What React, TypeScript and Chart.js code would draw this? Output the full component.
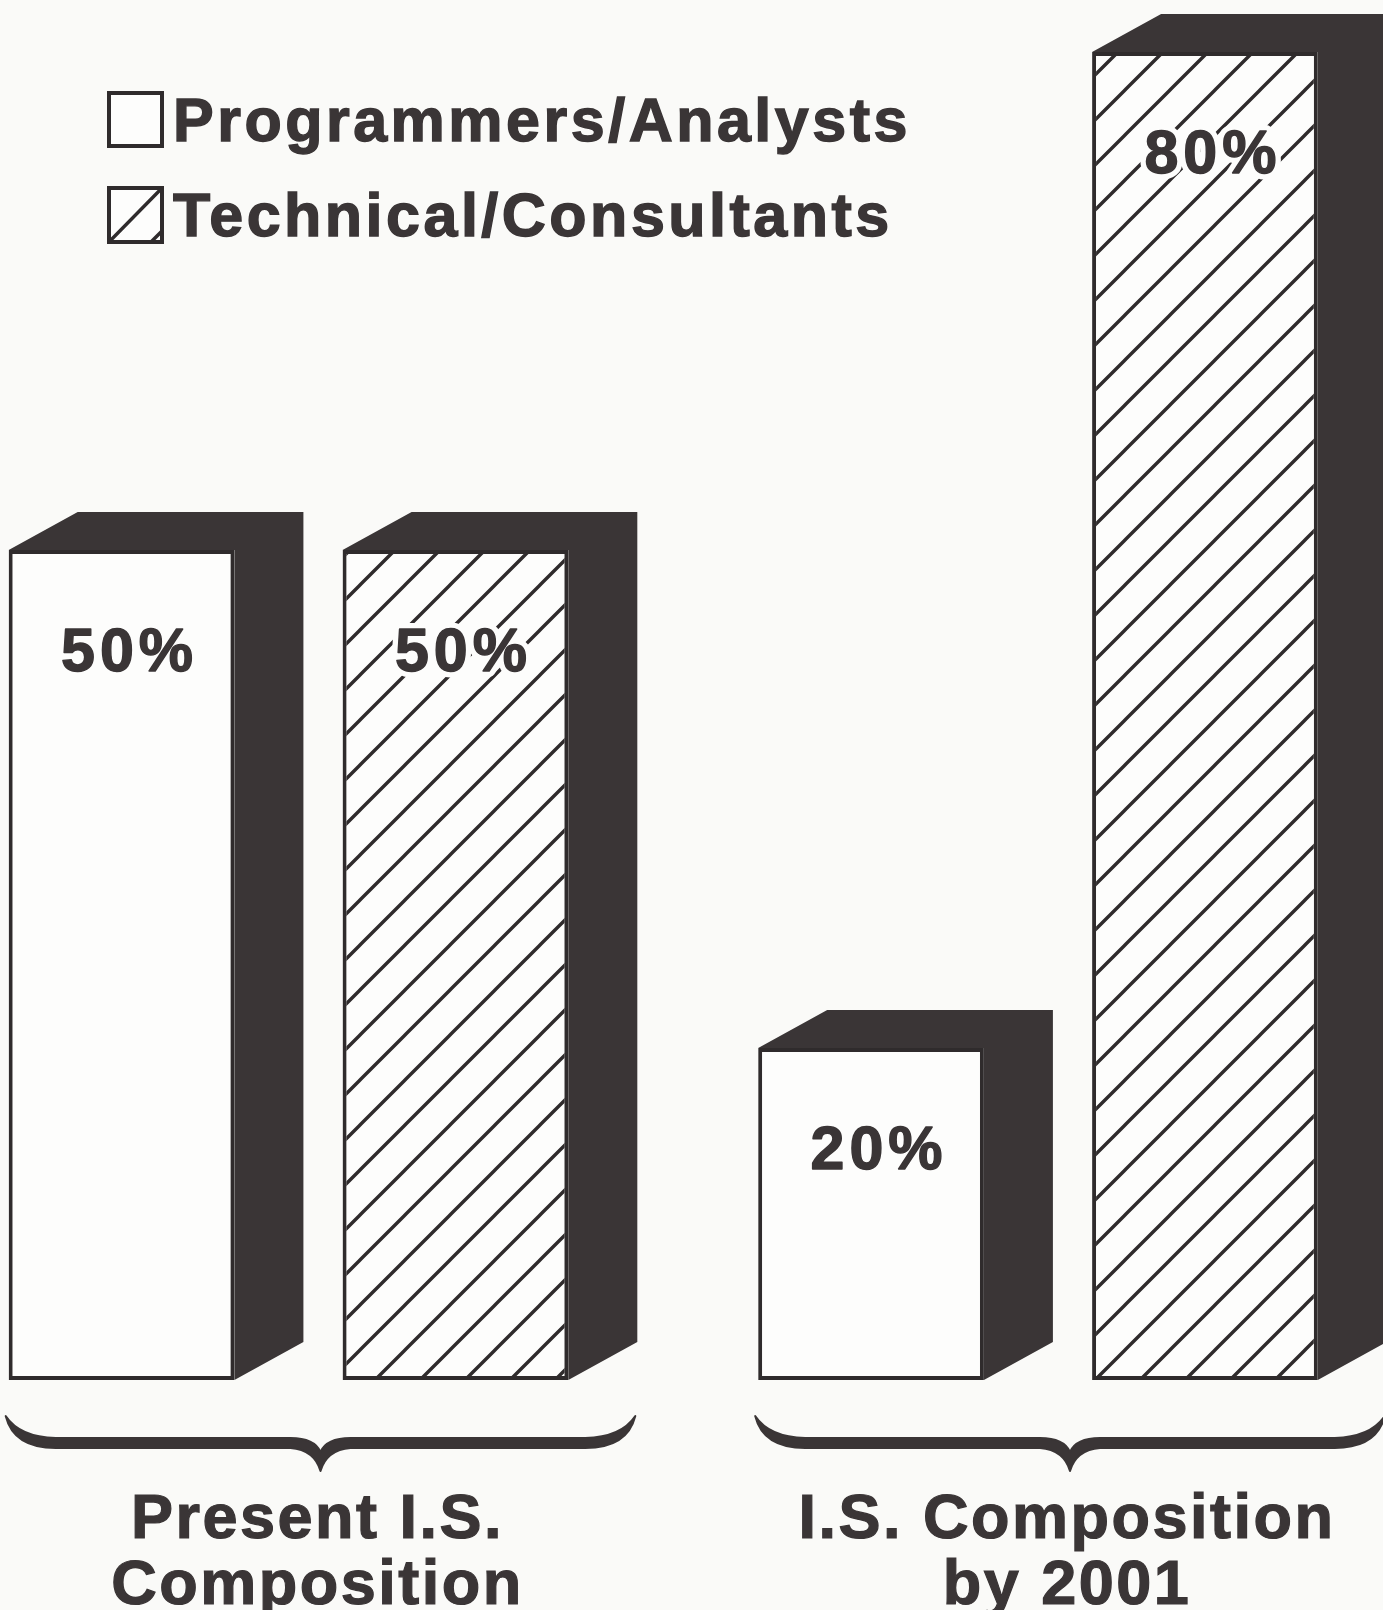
import React, { useEffect, useRef } from "react";
import { Chart, registerables } from "chart.js";

Chart.register(...registerables);

// ---- data ----
const categories: string[][] = [
  ["Present I.S.", "Composition"],
  ["I.S. Composition", "by 2001"],
];
const seriesNames: string[] = ["Programmers/Analysts", "Technical/Consultants"];
const programmersValues: number[] = [50, 20];
const technicalValues: number[] = [50, 80];
const valueSuffix = "%";

// ---- style ----
const W = 1383;
const H = 1610;
const INK = "#3a3536";
const EDGE = "#2f2b2c";
const BG = "#fafaf8";
const FACE = "#fdfdfc";
const FONT = '"Liberation Sans", Arial, Helvetica, sans-serif';
const DEPTH_X = 69;
const DEPTH_Y = 38;

function makeHatch(): CanvasPattern | string {
  const s = 45;
  const c = document.createElement("canvas");
  c.width = s;
  c.height = s;
  const g = c.getContext("2d");
  if (!g) return FACE;
  g.fillStyle = FACE;
  g.fillRect(0, 0, s, s);
  g.strokeStyle = EDGE;
  g.lineWidth = 3.4;
  g.beginPath();
  g.moveTo(-3, s + 3);
  g.lineTo(s + 3, -3);
  g.moveTo(-3, 3);
  g.lineTo(3, -3);
  g.moveTo(s - 3, s + 3);
  g.lineTo(s + 3, s - 3);
  g.stroke();
  return g.createPattern(c, "repeat") || FACE;
}

function barBox(el: any) {
  const p = el.getProps(["x", "y", "base", "width"], true);
  return { l: p.x - p.width / 2, r: p.x + p.width / 2, x: p.x, top: p.y, base: p.base };
}

const bgPlugin = {
  id: "bgPlugin",
  beforeDraw(chart: any) {
    const { ctx, width, height } = chart;
    ctx.save();
    ctx.fillStyle = BG;
    ctx.fillRect(0, 0, width, height);
    ctx.restore();
    (ctx as any).letterSpacing = "2.5px";
  },
};

const depthPlugin = {
  id: "depthPlugin",
  beforeDatasetsDraw(chart: any) {
    const ctx = chart.ctx;
    ctx.save();
    ctx.fillStyle = INK;
    chart.data.datasets.forEach((_: any, di: number) => {
      const meta = chart.getDatasetMeta(di);
      meta.data.forEach((el: any) => {
        const b = barBox(el);
        ctx.beginPath();
        ctx.moveTo(b.l, b.top);
        ctx.lineTo(b.l + DEPTH_X, b.top - DEPTH_Y);
        ctx.lineTo(b.r + DEPTH_X, b.top - DEPTH_Y);
        ctx.lineTo(b.r + DEPTH_X, b.base - DEPTH_Y);
        ctx.lineTo(b.r, b.base);
        ctx.lineTo(b.r, b.top);
        ctx.closePath();
        ctx.fill();
      });
    });
    ctx.restore();
  },
};

const valuePlugin = {
  id: "valuePlugin",
  afterDatasetsDraw(chart: any) {
    const ctx = chart.ctx;
    ctx.save();
    ctx.font = `bold 61px ${FONT}`;
    (ctx as any).letterSpacing = "5px";
    ctx.textAlign = "center";
    ctx.textBaseline = "alphabetic";
    ctx.lineJoin = "round";
    chart.data.datasets.forEach((ds: any, di: number) => {
      const meta = chart.getDatasetMeta(di);
      meta.data.forEach((el: any, i: number) => {
        const b = barBox(el);
        const t = `${ds.data[i]}${valueSuffix}`;
        const tx = b.x + 8;
        const ty = b.top + 121;
        ctx.strokeStyle = FACE;
        ctx.lineWidth = 12;
        ctx.strokeText(t, tx, ty);
        ctx.fillStyle = INK;
        ctx.strokeStyle = INK;
        ctx.lineWidth = 1.4;
        ctx.strokeText(t, tx, ty);
        ctx.fillText(t, tx, ty);
      });
    });
    ctx.restore();
  },
};

function drawBrace(ctx: CanvasRenderingContext2D, x0: number, x1: number, base: number) {
  const cx = (x0 + x1) / 2;
  const yEnd = base + 36;
  const yLine = base + 63;
  const yTip = base + 91;
  const t = 5;
  ctx.beginPath();
  ctx.moveTo(x0, yEnd);
  ctx.quadraticCurveTo(x0 + 8, yLine + t, x0 + 50, yLine + t);
  ctx.lineTo(cx - 30, yLine + t);
  ctx.quadraticCurveTo(cx - 6, yLine + t + 2, cx, yTip);
  ctx.quadraticCurveTo(cx + 6, yLine + t + 2, cx + 30, yLine + t);
  ctx.lineTo(x1 - 50, yLine + t);
  ctx.quadraticCurveTo(x1 - 8, yLine + t, x1, yEnd);
  ctx.quadraticCurveTo(x1 - 14, yLine - t - 1, x1 - 50, yLine - t);
  ctx.lineTo(cx + 30, yLine - t);
  ctx.quadraticCurveTo(cx + 6, yLine - t, cx, yLine + t + 4);
  ctx.quadraticCurveTo(cx - 6, yLine - t, cx - 30, yLine - t);
  ctx.lineTo(x0 + 50, yLine - t);
  ctx.quadraticCurveTo(x0 + 14, yLine - t - 1, x0, yEnd);
  ctx.closePath();
  ctx.fill();
  ctx.stroke();
}

const bracePlugin = {
  id: "bracePlugin",
  afterDraw(chart: any) {
    const ctx = chart.ctx;
    ctx.save();
    ctx.fillStyle = INK;
    ctx.strokeStyle = INK;
    ctx.lineWidth = 2;
    ctx.lineJoin = "round";
    const n = chart.data.labels.length;
    for (let i = 0; i < n; i++) {
      let l = Infinity;
      let r = -Infinity;
      let base = 0;
      chart.data.datasets.forEach((_: any, di: number) => {
        const el = chart.getDatasetMeta(di).data[i];
        if (!el) return;
        const b = barBox(el);
        l = Math.min(l, b.l);
        r = Math.max(r, b.r);
        base = b.base;
      });
      drawBrace(ctx, l - 3, r + DEPTH_X - 2, base);
    }
    ctx.restore();
  },
};

const legendPlugin = {
  id: "legendPlugin",
  afterDraw(chart: any) {
    const ctx = chart.ctx;
    ctx.save();
    const boxes = [
      { x: 109, y: 93, w: 53, h: 53, hatch: false, base: 141 },
      { x: 109, y: 188, w: 53, h: 54, hatch: true, base: 236 },
    ];
    chart.data.datasets.forEach((ds: any, di: number) => {
      const b = boxes[di];
      ctx.fillStyle = FACE;
      ctx.fillRect(b.x, b.y, b.w, b.h);
      if (b.hatch) {
        ctx.save();
        ctx.beginPath();
        ctx.rect(b.x, b.y, b.w, b.h);
        ctx.clip();
        ctx.strokeStyle = EDGE;
        ctx.lineWidth = 3.5;
        ctx.beginPath();
        ctx.moveTo(b.x - 2, b.y + b.h + 2);
        ctx.lineTo(b.x + b.w + 2, b.y - 2);
        ctx.moveTo(b.x + b.w - 13, b.y + b.h + 2);
        ctx.lineTo(b.x + b.w + 2, b.y + b.h - 13);
        ctx.stroke();
        ctx.restore();
      }
      ctx.strokeStyle = EDGE;
      ctx.lineWidth = 4;
      ctx.strokeRect(b.x, b.y, b.w, b.h);
      ctx.font = `bold 61px ${FONT}`;
      (ctx as any).letterSpacing = "3.5px";
      ctx.textAlign = "left";
      ctx.textBaseline = "alphabetic";
      ctx.fillStyle = INK;
      ctx.strokeStyle = INK;
      ctx.lineWidth = 1.4;
      ctx.strokeText(ds.label, 173, b.base);
      ctx.fillText(ds.label, 173, b.base);
    });
    ctx.restore();
  },
};

export default function App() {
  const ref = useRef<HTMLCanvasElement | null>(null);

  useEffect(() => {
    if (!ref.current) return;
    document.body.style.margin = "0";
    document.body.style.background = BG;
    const hatch = makeHatch();
    const common = {
      borderColor: EDGE,
      borderWidth: 4,
      borderSkipped: false as const,
      clip: false as any,
      categoryPercentage: 0.891,
      barPercentage: 0.676,
    };
    const chart = new Chart(ref.current, {
      type: "bar",
      data: {
        labels: categories,
        datasets: [
          { label: seriesNames[0], data: programmersValues, backgroundColor: FACE, ...common },
          { label: seriesNames[1], data: technicalValues, backgroundColor: hatch as any, ...common },
        ],
      },
      options: {
        responsive: false,
        animation: false,
        events: [],
        layout: { padding: { left: 288.5, right: 345, top: 52, bottom: 0 } },
        plugins: { legend: { display: false }, tooltip: { enabled: false } },
        scales: {
          x: {
            offset: false,
            grid: { display: false, drawTicks: false },
            border: { display: false },
            ticks: {
              padding: 108,
              labelOffset: 29,
              autoSkip: false,
              maxRotation: 0,
              minRotation: 0,
              color: INK,
              textStrokeColor: INK,
              textStrokeWidth: 1.2,
              font: { family: FONT, size: 63, weight: "bold", lineHeight: 1.04 },
            } as any,
            afterFit: (s: any) => {
              s.height = 230;
              s.paddingLeft = 0;
              s.paddingRight = 0;
            },
          },
          y: { display: false, min: 0, max: 80 },
        },
      },
      plugins: [bgPlugin, depthPlugin, valuePlugin, legendPlugin, bracePlugin],
    });
    return () => chart.destroy();
  }, []);

  return (
    <div style={{ position: "absolute", left: 0, top: 0, width: W, height: H, background: BG }}>
      <canvas ref={ref} width={W} height={H} style={{ display: "block" }} />
    </div>
  );
}
